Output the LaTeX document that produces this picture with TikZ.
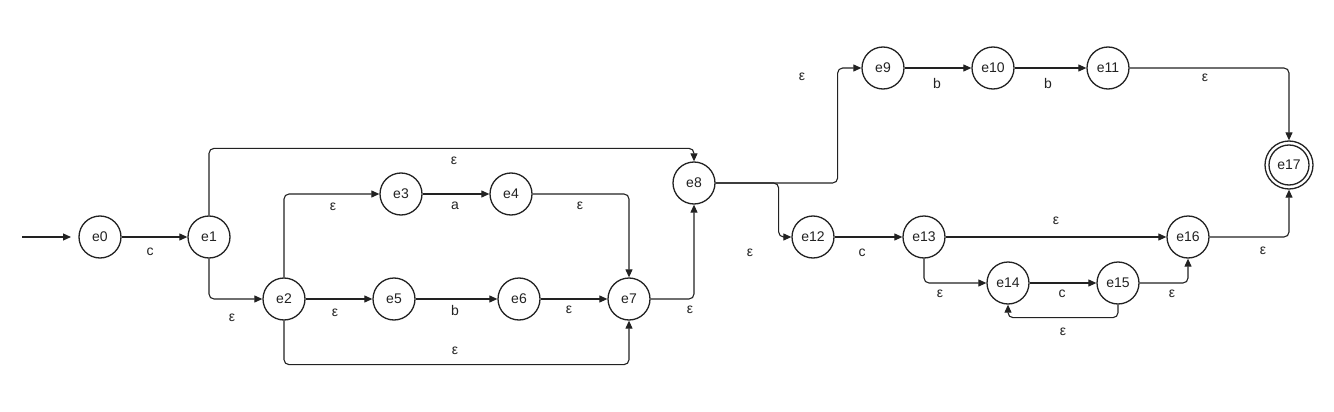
\documentclass[tikz,border=0pt]{standalone}
\usepackage{fontspec}
\setmainfont{Liberation Sans}
\usetikzlibrary{arrows.meta}
\definecolor{ink}{HTML}{222222}
\tikzset{
  state/.style={circle,draw=ink,line width=1.3pt,minimum size=42pt,inner sep=0pt,text=ink,font=\fontsize{14}{16}\selectfont},
  edge/.style={draw=ink,line width=1.1pt,rounded corners=5pt,-{Triangle[length=8pt,width=7pt]}},
  lbl/.style={text=ink,font=\fontsize{14}{16}\selectfont,inner sep=0pt}
}
\begin{document}
\begin{tikzpicture}[x=1pt,y=-1pt]
\useasboundingbox (0,0) rectangle (1334,412);
% states
\node[state] (e0) at (100,237) {e0};
\node[state] (e1) at (209,237) {e1};
\node[state] (e2) at (284,299) {e2};
\node[state] (e3) at (401,194) {e3};
\node[state] (e4) at (511,194) {e4};
\node[state] (e5) at (394,299) {e5};
\node[state] (e6) at (519,299) {e6};
\node[state] (e7) at (629,299) {e7};
\node[state] (e8) at (694,183) {e8};
\node[state] (e9) at (883,68) {e9};
\node[state] (e10) at (993,68) {e10};
\node[state] (e11) at (1108,68) {e11};
\node[state] (e12) at (813,237) {e12};
\node[state] (e13) at (924,237) {e13};
\node[state] (e14) at (1008,283) {e14};
\node[state] (e15) at (1118,283) {e15};
\node[state] (e16) at (1188,237) {e16};
\node[state,minimum size=48pt] (e17) at (1289,165) {e17};
\draw[ink,line width=1.3pt] (e17.center) circle (20);
% start arrow
\coordinate (s0) at (22,237);
\coordinate (s1) at (71,237);
\draw[edge] (s0) -- (s1);
% transitions
\draw[edge] (e0.east) -- (e1.west);
\draw[edge] (e1.south) |- (e2.west);
\draw[edge] (e1.north) -- ++(0,-67) -| (e8.north);
\draw[edge] (e2.north) |- (e3.west);
\draw[edge] (e2.east) -- (e5.west);
\draw[edge] (e2.south) -- ++(0,44) -| (e7.south);
\draw[edge] (e3.east) -- (e4.west);
\draw[edge] (e4.east) -| (e7.north);
\draw[edge] (e5.east) -- (e6.west);
\draw[edge] (e6.east) -- (e7.west);
\draw[edge] (e7.east) -| (e8.south);
\draw[edge] (e8.east) -- ++(122,0) |- (e9.west);
\draw[edge] (e8.east) -- ++(63,0) |- (e12.west);
\draw[edge] (e9.east) -- (e10.west);
\draw[edge] (e10.east) -- (e11.west);
\draw[edge] (e11.east) -| (e17.north);
\draw[edge] (e12.east) -- (e13.west);
\draw[edge] (e13.east) -- (e16.west);
\draw[edge] (e13.south) |- (e14.west);
\draw[edge] (e14.east) -- (e15.west);
\draw[edge] (e15.east) -| (e16.south);
\draw[edge] (e15.south) -- ++(0,13) -| (e14.south);
\draw[edge] (e16.east) -| (e17.south);
% labels
\node[lbl] (l01) at (150,252) {c};
\node[lbl] (l12) at (232,318) {ε};
\node[lbl] (l23) at (333,207) {ε};
\node[lbl] (l25) at (335,313) {ε};
\node[lbl] (l18) at (454,161) {ε};
\node[lbl] (l34) at (455,206) {a};
\node[lbl] (l47) at (580,206) {ε};
\node[lbl] (l56) at (455,310) {b};
\node[lbl] (l67) at (569,310) {ε};
\node[lbl] (l78) at (690,310) {ε};
\node[lbl] (l27) at (455,351) {ε};
\node[lbl] (l812) at (750,253) {ε};
\node[lbl] (l1213) at (862,253) {c};
\node[lbl] (l89) at (802,77) {ε};
\node[lbl] (l910) at (937,83) {b};
\node[lbl] (l1011) at (1048,83) {b};
\node[lbl] (l1117) at (1205,78) {ε};
\node[lbl] (l1316) at (1056,221) {ε};
\node[lbl] (l1617) at (1263,251) {ε};
\node[lbl] (l1314) at (940,294) {ε};
\node[lbl] (l1415) at (1062,294) {c};
\node[lbl] (l1516) at (1172,294) {ε};
\node[lbl] (l1514) at (1063,332) {ε};
\end{tikzpicture}
\end{document}
